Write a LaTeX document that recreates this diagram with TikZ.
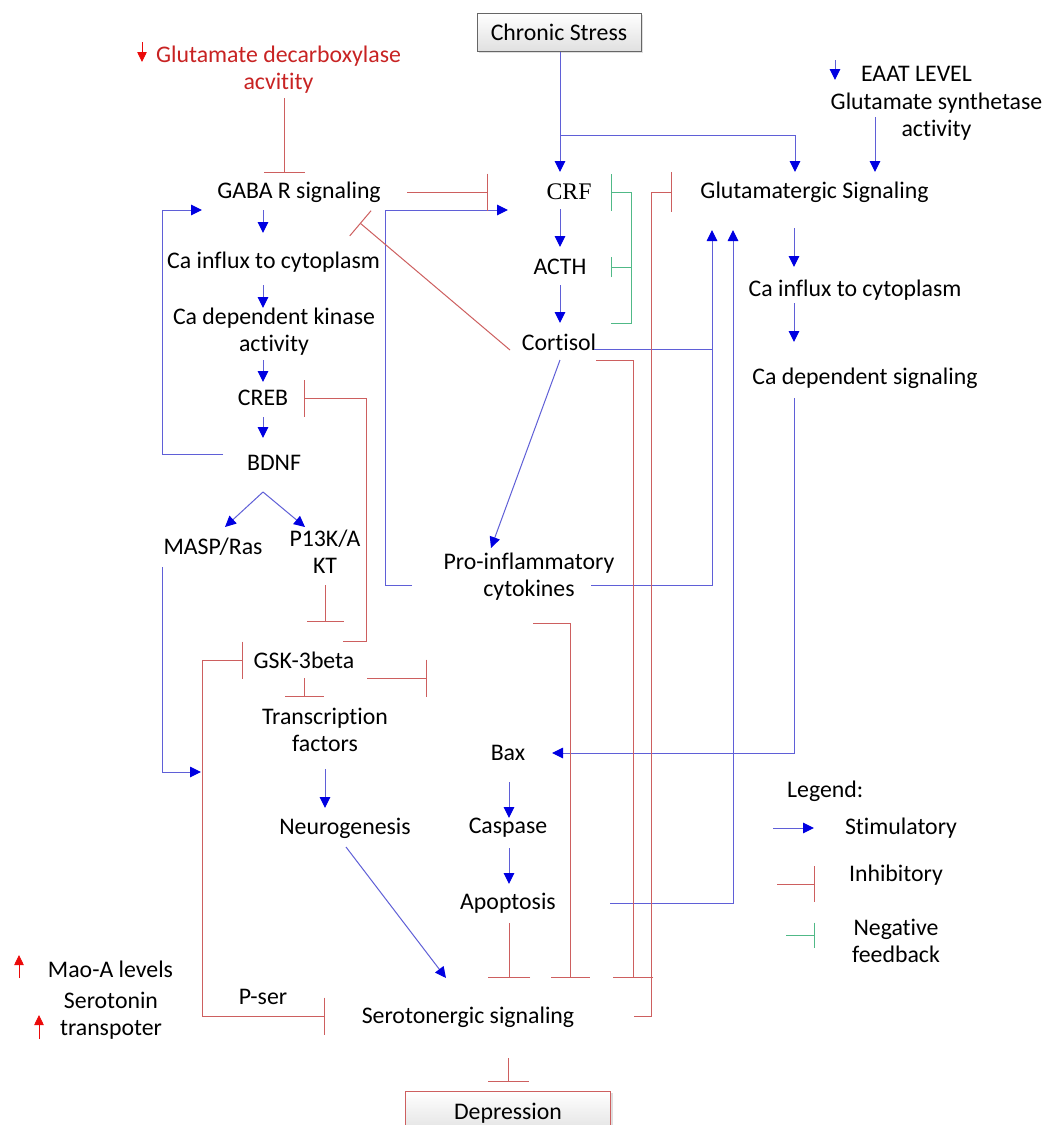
\documentclass[tikz,border=0pt]{standalone}
\usepackage{fontspec}
\setmainfont{Carlito}[Ligatures=NoCommon]
\newfontfamily\crffont{Liberation Serif}
\usetikzlibrary{arrows.meta,calc,shadows}
\definecolor{lblue}{RGB}{95,95,215}
\definecolor{hblue}{RGB}{0,0,225}
\definecolor{lred}{RGB}{205,95,95}
\definecolor{tred}{RGB}{200,35,35}
\definecolor{ared}{RGB}{235,10,10}
\definecolor{lgreen}{RGB}{80,185,135}
\begin{document}
\begin{tikzpicture}[x=1pt,y=-1pt,
  every node/.style={font=\fontsize{23.8}{27}\selectfont, inner sep=0pt, align=center},
  stim/.style={draw=lblue, line width=1pt, -{Triangle[length=11pt,width=10.5pt,color=hblue]}},
  stimline/.style={draw=lblue, line width=1pt},
  inh/.style={draw=lred, line width=1pt, -{Bar[width=#1,line width=1pt]}},
  inh/.default=38pt,
  neg/.style={draw=lgreen, line width=1pt, -{Bar[width=#1,line width=1pt]}},
  neg/.default=37pt,
  upred/.style={draw=ared, line width=0.8pt, -{Triangle[length=10pt,width=9.5pt,color=ared]}},
  boxg/.style={draw=#1, line width=1pt, top color=white, bottom color=black!12,
    drop shadow={shadow xshift=2pt, shadow yshift=-2pt, opacity=0.25}},
]
\fill[white] (0,0) rectangle (1044,1125);
\useasboundingbox (0,0) rectangle (1044,1125);

% nodes
\node[boxg=black!60, minimum width=164pt, minimum height=38pt] (chronic) at (559,32) {Chronic Stress};
\node[text=tred] (gdc) at (278.5,69.5) {Glutamate decarboxylase\\acvitity};
\node (gaba) at (299,192) {GABA R signaling};
\node (ca1) at (273.5,262) {Ca influx to cytoplasm};
\node (kin) at (274,331.5) {Ca dependent kinase\\activity};
\node (creb) at (263,398) {CREB};
\node (bdnf) at (274,463) {BDNF};
\node (masp) at (213,547) {MASP/Ras};
\node (pi3k) at (325,552) {P13K/A\\KT};
\node (gsk) at (304,660) {GSK-3beta};
\node (tf) at (325,730) {Transcription\\factors};
\node (neuro) at (345,828) {Neurogenesis};
\node (pser) at (263,997) {P-ser};
\node (sero) at (468,1017) {Serotonergic signaling};
\node[boxg=lred, minimum width=205pt, minimum height=44pt] (dep) at (508,1113) {Depression};
\node[font=\crffont\fontsize{23.8}{27}\selectfont] (crf) at (569,192) {CRF};
\node (acth) at (560,267) {ACTH};
\node (cort) at (559,342) {Cortisol};
\node (proinf) at (529,576.5) {Pro-inflammatory\\cytokines};
\node (bax) at (508,753) {Bax};
\node (casp) at (508,828) {Caspase};
\node (apop) at (508,903) {Apoptosis};
\node (glut) at (814.5,192) {Glutamatergic Signaling};
\node (ca2) at (855,290) {Ca influx to cytoplasm};
\node (casig) at (865,378) {Ca dependent signaling};
\node (eaat) at (916.5,74) {EAAT LEVEL};
\node (gsyn) at (936.5,116.5) {Glutamate synthetase\\activity};
\node[anchor=west] (legend) at (787,791) {Legend:};
\node (stimt) at (901,828) {Stimulatory};
\node (inht) at (896,875) {Inhibitory};
\node (negt) at (896,940.5) {Negative\\feedback};
\node (maoa) at (110.5,969) {Mao-A levels};
\node (serot) at (111,1016) {Serotonin\\transpoter};

% small level arrows
\draw[upred] ($(gdc)+(-136.5,-27.5)$) -- ($(gdc)+(-136.5,-7.5)$);
\draw[stim] ($(eaat)+(-81.5,-14)$) -- ($(eaat)+(-81.5,6)$);
\draw[upred] ($(maoa)+(-91.5,9)$) -- ($(maoa)+(-91.5,-14)$);
\draw[upred] ($(serot)+(-72,23)$) -- ($(serot)+(-72,-1)$);

% stimulatory connectors
\draw[stim] ($(chronic.south)+(1,0)$) -- ($(crf)+(-9,-20)$);
\draw[stim] ($(chronic.south)+(1,84)$) -| ($(glut)+(-19.5,-20)$);
\draw[stim] ($(gsyn)+(-61.5,0.5)$) -- ($(glut)+(60.5,-20)$);
\draw[stim] ($(gaba)+(-36,18)$) -- ($(ca1)+(-10.5,-29)$);
\draw[stim] ($(ca1)+(-10.5,23)$) -- ($(kin)+(-11,-23.5)$);
\draw[stim] ($(kin)+(-11,28.5)$) -- ($(creb)+(0,-16)$);
\draw[stim] ($(creb)+(0,19)$) -- ($(bdnf)+(-11,-25)$);
\draw[stim] ($(bdnf)+(-51,-9)$) -- ++(-61,0) |- ($(gaba)+(-97,18)$);
\draw[stim] ($(bdnf)+(-11,29)$) -- ($(masp)+(12,-20)$);
\draw[stim] ($(bdnf)+(-11,29)$) -- ($(pi3k)+(-20,-25)$);
\draw[stim] ($(masp)+(-51,20)$) |- ($(tf)+(-124,42)$);
\draw[stim] ($(crf)+(-9,17)$) -- ($(acth)+(0,-20)$);
\draw[stim] ($(acth)+(0,18)$) -- ($(cort)+(1,-19)$);
\draw[stim] ($(cort)+(35,7)$) -| ($(glut)+(-102.5,38)$);
\draw[stimline] ($(proinf)+(62,8.5)$) -| ($(cort)+(153,7)$);
\draw[stim] ($(proinf)+(-117,8.5)$) -- ++(-27,0) |- ($(crf)+(-61,18)$);
\draw[stim] ($(cort)+(1,18)$) -- ($(proinf)+(-38,-28.5)$);
\draw[stim] ($(glut)+(-20.5,36)$) -- ($(ca2)+(-61,-23)$);
\draw[stim] ($(ca2)+(-61,13)$) -- ($(casig)+(-71,-36)$);
\draw[stim] ($(casig)+(-71,20)$) |- ($(bax)+(44,0)$);
\draw[stim] ($(bax)+(1,29)$) -- ($(casp)+(1,-10)$);
\draw[stim] ($(casp)+(1,20)$) -- ($(apop)+(1,-19)$);
\draw[stim] ($(apop)+(102,0)$) -| ($(glut)+(-81.5,38)$);
\draw[stim] ($(tf)+(0,39)$) -- ($(neuro)+(-20,-20)$);
\draw[stim] ($(neuro)+(1,19)$) -- ($(sero)+(-22,-39)$);
\draw[stim] ($(stimt)+(-128,0)$) -- ($(stimt)+(-87,0)$);

% inhibitory connectors
\draw[inh=41pt] ($(gdc)+(5.5,28.5)$) -- ($(gaba)+(-15,-19)$);
\draw[inh=37pt] ($(gaba)+(108,0)$) -- ($(crf)+(-81,0)$);
\draw[inh=33pt] ($(cort)+(-49,8)$) -- ($(gaba)+(61,31)$);
\draw[inh=37pt] ($(gsk)+(39,-19)$) -- ++(23,0) |- ($(creb)+(41,0)$);
\draw[inh=37pt] ($(pi3k)+(0,33)$) -- ($(gsk)+(21,-38)$);
\draw[draw=lred, line width=1pt, {Bar[width=37pt,line width=1pt]}-{Bar[width=37pt,line width=1pt]}]
  ($(sero)+(-143,-1)$) -| ($(gsk)+(-102,0)$) -- ($(gsk)+(-61,0)$);
\draw[inh=37pt] ($(gsk)+(63,18)$) -- ++(60,0);
\draw[inh=39pt] ($(gsk)+(0,18)$) -- ($(tf)+(-21,-33)$);
\draw[inh=40pt] ($(sero)+(166,-1)$) -- ($(sero)+(183,-1)$) |- ($(glut)+(-142.5,0)$);
\draw[inh=40pt] ($(cort)+(37,18)$) -| ($(sero)+(165,-39)$);
\draw[inh=39pt] ($(proinf)+(4,46.5)$) -| ($(sero)+(102,-39)$);
\draw[inh=42pt] ($(apop)+(1,20)$) -- ($(sero)+(41,-39)$);
\draw[inh=41pt] ($(sero)+(40,41)$) -- ($(dep.north)+(0,-9)$);
\draw[inh=36pt] ($(inht)+(-119,9)$) -- ($(inht)+(-81,9)$);

% negative feedback
\draw[neg=37pt] ($(cort)+(52,-19)$) -- ++(20,0) |- ($(crf)+(42,0)$);
\draw[neg=20pt] ($(acth)+(71,0)$) -- ($(acth)+(51,0)$);
\draw[neg=25pt] ($(negt)+(-110,-5.5)$) -- ($(negt)+(-81,-5.5)$);
\end{tikzpicture}
\end{document}
